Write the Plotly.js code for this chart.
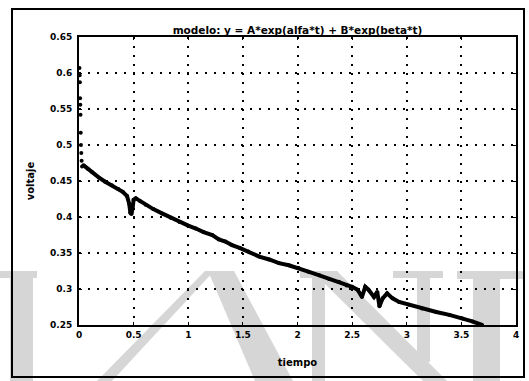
<!DOCTYPE html>
<html>
<head>
<meta charset="utf-8">
<script src="https://cdn.plot.ly/plotly-3.0.1.min.js"></script>
<style>html,body{margin:0;padding:0;background:#fff;}#chart{width:529px;height:381px;}</style>
</head>
<body>
<div id="chart"></div>
<script>
// Initial transient (points read along the left edge)
const tStart = [0.004, 0.006, 0.008, 0.010, 0.012, 0.014, 0.016, 0.018, 0.021, 0.024, 0.028];
const vStart = [0.607, 0.597, 0.587, 0.565, 0.556, 0.542, 0.517, 0.500, 0.489, 0.478, 0.470];

// Main measured curve
const tMain = [0.04, 0.08, 0.12, 0.18, 0.24, 0.30, 0.36, 0.40, 0.44, 0.46, 0.47, 0.48, 0.49, 0.50, 0.52, 0.56,
  0.61, 0.68, 0.76, 0.84, 0.92, 1.00, 1.07, 1.14, 1.22, 1.28, 1.34, 1.40, 1.47, 1.55, 1.65, 1.74, 1.83,
  1.92, 2.01, 2.10, 2.20, 2.29, 2.38, 2.45, 2.50, 2.55, 2.59, 2.62, 2.65, 2.70, 2.73, 2.75, 2.78, 2.82,
  2.87, 2.93, 3.02, 3.14, 3.27, 3.39, 3.51, 3.60, 3.69];
const vMain = [0.472, 0.467, 0.462, 0.455, 0.449, 0.444, 0.439, 0.435, 0.429, 0.418, 0.406, 0.404, 0.412, 0.424, 0.426, 0.422,
  0.417, 0.411, 0.405, 0.399, 0.393, 0.388, 0.384, 0.379, 0.375, 0.369, 0.366, 0.361, 0.357, 0.352, 0.345, 0.341, 0.336,
  0.333, 0.329, 0.324, 0.319, 0.314, 0.310, 0.305, 0.303, 0.299, 0.289, 0.303, 0.299, 0.289, 0.296, 0.276, 0.287, 0.294,
  0.287, 0.282, 0.278, 0.273, 0.268, 0.264, 0.259, 0.255, 0.250];

const xTicks = [0, 0.5, 1, 1.5, 2, 2.5, 3, 3.5, 4];
const xTickText = ["0", "0.5", "1", "1.5", "2", "2.5", "3", "3.5", "4"];
const yTicks = [0.25, 0.3, 0.35, 0.4, 0.45, 0.5, 0.55, 0.6, 0.65];
const yTickText = ["0.25", "0.3", "0.35", "0.4", "0.45", "0.5", "0.55", "0.6", "0.65"];

const titleText = "modelo: y = A*exp(alfa*t) + B*exp(beta*t)";
const xTitle = "tiempo";
const yTitle = "voltaje";

// plot area in pixels
const L = 79, R = 516, T = 37, B = 325;
const px = x => (x - L) / (R - L);
const py = y => (B - y) / (B - T);
function poly(pts) {
  return 'M' + pts.map(p => px(p[0]).toFixed(4) + ',' + py(p[1]).toFixed(4)).join('L') + 'Z';
}
const wm = { type: 'path', xref: 'paper', yref: 'paper', layer: 'below', fillcolor: '#d6d6d6', line: { width: 0 } };
const watermark = [
  // I
  [[0, 271], [37, 271], [37, 278], [33, 278], [33, 381], [10, 381], [10, 278], [0, 278]],
  // A thin left stroke
  [[205, 271], [214, 271], [112, 381], [97, 381]],
  // A thick right stroke
  [[208, 271], [234, 271], [293, 381], [255, 381]],
  // N left stem + serif
  [[300, 271], [336, 271], [336, 278], [325, 278], [325, 381], [312, 381], [312, 278], [300, 278]],
  // N diagonal
  [[312, 271], [337, 271], [447, 381], [423, 381]],
  // N right stem + serif
  [[393, 271], [443, 271], [443, 278], [430, 278], [430, 362], [417, 362], [417, 278], [393, 278]],
  // I right
  [[457, 271], [523, 271], [523, 279], [500, 279], [500, 381], [473, 381], [473, 279], [457, 279]]
].map(p => Object.assign({}, wm, { path: poly(p) }));

const frame = { type: 'rect', xref: 'paper', yref: 'paper', layer: 'above',
  x0: px(12), x1: px(524), y0: py(377), y1: py(9), line: { color: '#000', width: 2 } };

const tickFont = { family: 'DejaVu Sans', size: 9, color: '#000', weight: 'bold' };
const labFont = { family: 'DejaVu Sans', size: 10, color: '#000', weight: 'bold' };

const traces = [
  { x: tStart, y: vStart, type: 'scatter', mode: 'markers', marker: { color: '#000', size: 4 }, cliponaxis: false, hoverinfo: 'skip' },
  { x: tMain, y: vMain, type: 'scatter', mode: 'lines+markers', line: { color: '#000', width: 4 }, marker: { color: '#000', size: 4 }, cliponaxis: false, hoverinfo: 'skip' }
];

const layout = {
  width: 529, height: 381,
  margin: { l: L, r: 529 - R, t: T, b: 381 - B, pad: 0 },
  paper_bgcolor: '#fff', plot_bgcolor: 'rgba(0,0,0,0)',
  showlegend: false,
  title: { text: titleText, font: { family: 'DejaVu Sans', size: 10.5, color: '#000', weight: 'bold' },
    x: 0.5, xref: 'paper', xanchor: 'center', y: 1 - 30 / 381, yanchor: 'middle' },
  xaxis: {
    range: [0, 4], tickvals: xTicks, ticktext: xTickText, tickfont: tickFont,
    showline: true, linecolor: '#000', linewidth: 2, mirror: 'ticks',
    ticks: 'inside', ticklen: 3, tickcolor: '#000', tickwidth: 1,
    showgrid: true, gridcolor: '#000', gridwidth: 2, griddash: '2px,7px',
    zeroline: false,
    title: { text: xTitle, font: labFont, standoff: 20 }
  },
  yaxis: {
    range: [0.25, 0.65], tickvals: yTicks, ticktext: yTickText, tickfont: tickFont,
    showline: true, linecolor: '#000', linewidth: 2, mirror: 'ticks',
    ticks: 'inside', ticklen: 3, tickcolor: '#000', tickwidth: 1, ticklabelstandoff: 3,
    showgrid: true, gridcolor: '#000', gridwidth: 2, griddash: '2px,7px',
    zeroline: false,
    title: { text: yTitle, font: labFont, standoff: 13 }
  },
  shapes: watermark.concat([frame])
};

Plotly.newPlot('chart', traces, layout, { staticPlot: true, displayModeBar: false });
</script>
</body>
</html>
